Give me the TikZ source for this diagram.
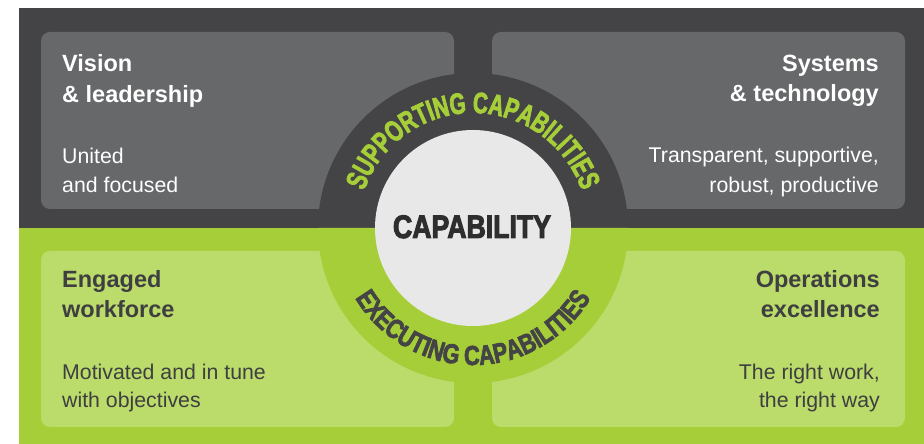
\documentclass[tikz,border=0pt]{standalone}
\usepackage{fontspec}
\setmainfont{Liberation Sans}
\newfontfamily\arcfontA[FakeStretch=0.70,FakeBold=2.5]{Liberation Sans}
\newfontfamily\arcfontB[FakeStretch=0.79,FakeBold=2.5]{Liberation Sans}
\newfontfamily\capfont[FakeStretch=0.82,FakeBold=3]{Liberation Sans}
\usetikzlibrary{decorations.text}
\definecolor{darkbg}{HTML}{444446}
\definecolor{topbox}{HTML}{67686A}
\definecolor{greenbg}{HTML}{A6CE39}
\definecolor{lightgreen}{HTML}{BBDB6A}
\definecolor{centre}{HTML}{E8E8E8}
\definecolor{darktext}{HTML}{3F3F41}
\definecolor{captext}{HTML}{2E2E2E}
\tikzset{
  panel/.style={inner sep=0pt, outer sep=0pt, rounded corners=9pt, anchor=south west,
    minimum width=413pt, minimum height=177pt},
  toppanel/.style={panel, fill=topbox},
  botpanel/.style={panel, fill=lightgreen, minimum height=176pt},
  titleL/.style={inner sep=0pt, anchor=base west, font=\bfseries\fontsize{23.5pt}{28pt}\selectfont},
  titleR/.style={inner sep=0pt, anchor=base east, font=\bfseries\fontsize{23.5pt}{28pt}\selectfont},
  bodyL/.style={inner sep=0pt, anchor=base west, font=\fontsize{21.3pt}{26pt}\selectfont},
  bodyR/.style={inner sep=0pt, anchor=base east, font=\fontsize{21.3pt}{26pt}\selectfont},
}
\begin{document}
\begin{tikzpicture}[x=1pt,y=1pt]
\useasboundingbox (0,0) rectangle (924,444);
\fill[white] (0,0) rectangle (924,444);
% backgrounds
\fill[darkbg] (19,216) rectangle (924,436);
\fill[greenbg] (19,0) rectangle (924,216);
% panels
\node[toppanel] (vl) at (41,235) {};
\node[toppanel] (st) at (492,235) {};
\node[botpanel] (ew) at (41,17) {};
\node[botpanel] (oe) at (492,17) {};
% ring
\coordinate (C) at (473,216);
\fill[darkbg] (C) ++(0:155) arc[start angle=0,end angle=180,radius=155] -- cycle;
\fill[greenbg] (C) ++(180:155) arc[start angle=180,end angle=360,radius=155] -- cycle;
\node[circle, fill=centre, minimum size=196pt, inner sep=0pt] (core) at (C) {};
% arc texts
\path[decorate, decoration={text along path, text align=center,
  text={|\arcfontA\bfseries\fontsize{29.5pt}{29.5pt}\selectfont\color{greenbg}|SUPPORTING CAPABILITIES}}]
  (C) ++(172:115) arc[start angle=172,end angle=8,radius=115];
\path[decorate, decoration={text along path, text align=center,
  text={|\arcfontB\bfseries\fontsize{27.5pt}{27.5pt}\selectfont\color{darkbg}|EXECUTING CAPABILITIES}}]
  (C) ++(192:137) arc[start angle=192,end angle=348,radius=137];
\node[inner sep=0pt, anchor=base, text=captext, font=\capfont\bfseries\fontsize{32.5pt}{32.5pt}\selectfont] (cap) at (472,206) {CAPABILITY};
% texts top-left
\node[titleL, text=white] (vl1) at (62,372) {Vision};
\node[titleL, text=white] (vl2) at (62,341) {\& leadership};
\node[bodyL, text=white] (vl3) at (62,280) {United};
\node[bodyL, text=white] (vl4) at (62,251) {and focused};
% texts top-right
\node[titleR, text=white] (st1) at (879,372) {Systems};
\node[titleR, text=white] (st2) at (879,342) {\& technology};
\node[bodyR, text=white] (st3) at (879,281) {Transparent, supportive,};
\node[bodyR, text=white] (st4) at (879,251) {robust, productive};
% texts bottom-left
\node[titleL, text=darktext] (ew1) at (62,156) {Engaged};
\node[titleL, text=darktext] (ew2) at (62,126) {workforce};
\node[bodyL, text=darktext] (ew3) at (62,64) {Motivated and in tune};
\node[bodyL, text=darktext] (ew4) at (62,36) {with objectives};
% texts bottom-right
\node[titleR, text=darktext] (oe1) at (880,156) {Operations};
\node[titleR, text=darktext] (oe2) at (880,126) {excellence};
\node[bodyR, text=darktext] (oe3) at (880,64) {The right work,};
\node[bodyR, text=darktext] (oe4) at (880,36) {the right way};
\end{tikzpicture}
\end{document}
